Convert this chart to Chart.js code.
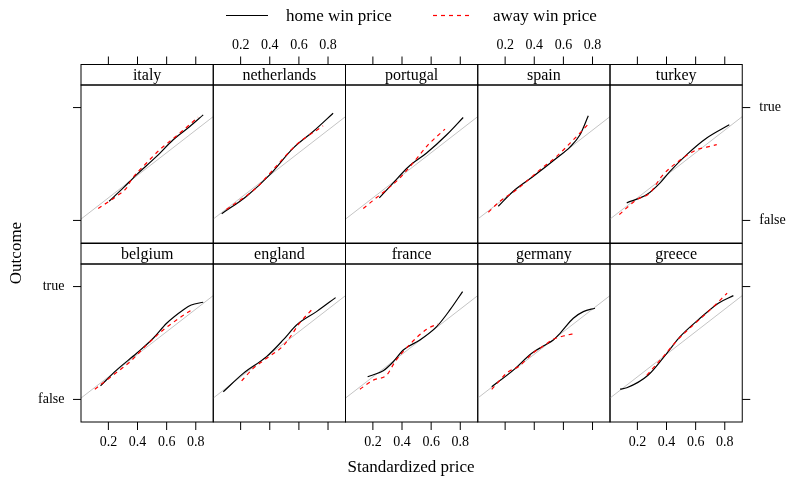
<!DOCTYPE html>
<html>
<head>
<meta charset="utf-8">
<script src="https://cdn.jsdelivr.net/npm/chart.js@4.4.0/dist/chart.umd.min.js"></script>
<style>
  html, body { margin: 0; padding: 0; background: #fff; }
  #wrap { position: relative; width: 786px; height: 480px; }
  #wrap canvas { position: absolute; left: 0; top: 0; }
</style>
</head>
<body>
<div id="wrap"></div>
<script>
var countries = ["italy", "netherlands", "portugal", "spain", "turkey",
                 "belgium", "england", "france", "germany", "greece"];
var seriesNames = ["home win price", "away win price"];
var xTicks = [0.2, 0.4, 0.6, 0.8];
var xTickLabels = ["0.2", "0.4", "0.6", "0.8"];
var yTicks = [0, 1];
var yTickLabels = ["false", "true"];
var refLine = [0, 1];

// [standardized price, smoothed outcome]
var italyHome = [[0.205,0.170],[0.302,0.288],[0.394,0.406],[0.531,0.567],[0.645,0.715],[0.759,0.832],[0.851,0.935]];
var italyAway = [[0.130,0.106],[0.256,0.215],[0.325,0.288],[0.359,0.362],[0.462,0.509],[0.553,0.627],[0.691,0.774],[0.816,0.915]];
var netherlandsHome = [[0.070,0.059],[0.241,0.215],[0.401,0.406],[0.561,0.641],[0.698,0.788],[0.835,0.950]];
var netherlandsAway = [[0.102,0.097],[0.308,0.289],[0.423,0.450],[0.583,0.671],[0.766,0.838]];
var portugalHome = [[0.244,0.200],[0.340,0.333],[0.443,0.474],[0.569,0.597],[0.707,0.759],[0.820,0.912]];
var portugalAway = [[0.134,0.106],[0.203,0.179],[0.317,0.297],[0.386,0.377],[0.466,0.494],[0.580,0.671],[0.695,0.809]];
var spainHome = [[0.153,0.126],[0.256,0.259],[0.394,0.391],[0.554,0.553],[0.645,0.650],[0.714,0.759],[0.771,0.927]];
var spainAway = [[0.085,0.073],[0.165,0.170],[0.280,0.274],[0.440,0.450],[0.554,0.568],[0.669,0.715],[0.771,0.853]];
var turkeyHome = [[0.127,0.156],[0.265,0.229],[0.356,0.333],[0.424,0.435],[0.539,0.583],[0.676,0.730],[0.831,0.847]];
var turkeyAway = [[0.076,0.053],[0.196,0.185],[0.287,0.244],[0.367,0.391],[0.481,0.523],[0.608,0.627],[0.676,0.650],[0.745,0.671]];
var belgiumHome = [[0.146,0.121],[0.256,0.260],[0.394,0.409],[0.508,0.542],[0.600,0.675],[0.713,0.793],[0.769,0.837],[0.851,0.861]];
var belgiumAway = [[0.107,0.091],[0.233,0.216],[0.349,0.334],[0.462,0.482],[0.576,0.615],[0.702,0.734],[0.764,0.787]];
var englandHome = [[0.081,0.068],[0.218,0.231],[0.378,0.379],[0.492,0.527],[0.584,0.660],[0.721,0.778],[0.852,0.902]];
var englandAway = [[0.207,0.165],[0.286,0.275],[0.378,0.364],[0.492,0.475],[0.550,0.571],[0.595,0.660],[0.698,0.808]];
var franceHome = [[0.164,0.201],[0.271,0.254],[0.340,0.334],[0.409,0.438],[0.523,0.527],[0.638,0.645],[0.729,0.793],[0.816,0.956]];
var franceAway = [[0.111,0.091],[0.203,0.171],[0.295,0.216],[0.352,0.334],[0.443,0.473],[0.569,0.622],[0.649,0.669]];
var germanyHome = [[0.108,0.112],[0.256,0.260],[0.383,0.409],[0.462,0.473],[0.531,0.527],[0.577,0.586],[0.668,0.719],[0.737,0.778],[0.817,0.808]];
var germanyAway = [[0.108,0.089],[0.222,0.245],[0.291,0.290],[0.394,0.414],[0.462,0.473],[0.531,0.533],[0.600,0.562],[0.686,0.586]];
var greeceHome = [[0.081,0.091],[0.127,0.103],[0.275,0.216],[0.402,0.409],[0.493,0.556],[0.630,0.719],[0.756,0.853],[0.859,0.920]];
var greeceAway = [[0.265,0.216],[0.321,0.296],[0.378,0.379],[0.470,0.520],[0.584,0.660],[0.699,0.793],[0.816,0.941]];

var homeSeries = [italyHome, netherlandsHome, portugalHome, spainHome, turkeyHome,
                  belgiumHome, englandHome, franceHome, germanyHome, greeceHome];
var awaySeries = [italyAway, netherlandsAway, portugalAway, spainAway, turkeyAway,
                  belgiumAway, englandAway, franceAway, germanyAway, greeceAway];

var W = 786, H = 480;
var panelLeft = 81, panelW = 132.25, panelH = 158, stripH = 20.5;
var rowTop = [85, 264];
var tickLen = 8;
var serif = '"Liberation Serif", "Times New Roman", serif';
var homeColor = '#000000', awayColor = '#ff0000';

function toPoints(arr) {
  return arr.map(function (p) { return { x: p[0], y: p[1] }; });
}

var panelPlugin = {
  id: 'panel',
  afterDraw: function (chart, args, opts) {
    var ctx = chart.ctx, a = chart.chartArea, i = opts.index;
    var row = Math.floor(i / 5), col = i % 5;
    var xs = chart.scales.x, ys = chart.scales.y;
    var sTop = a.top - stripH;
    ctx.save();
    ctx.strokeStyle = '#000';
    ctx.fillStyle = '#000';
    ctx.lineWidth = 1;
    ctx.strokeRect(a.left, a.top, a.right - a.left, a.bottom - a.top);
    ctx.strokeRect(a.left, sTop, a.right - a.left, stripH);
    ctx.font = '16px ' + serif;
    ctx.textAlign = 'center';
    ctx.textBaseline = 'alphabetic';
    ctx.fillText(countries[i], (a.left + a.right) / 2, sTop + 15);

    ctx.font = '14px ' + serif;
    ctx.beginPath();
    xTicks.forEach(function (v, k) {
      var px = xs.getPixelForValue(v);
      if (row === 0) {
        ctx.moveTo(px, sTop); ctx.lineTo(px, sTop - tickLen);
        if (col % 2 === 1) ctx.fillText(xTickLabels[k], px, sTop - tickLen - 8);
      } else {
        ctx.moveTo(px, a.bottom); ctx.lineTo(px, a.bottom + tickLen);
        if (col % 2 === 0) ctx.fillText(xTickLabels[k], px, a.bottom + tickLen + 15.5);
      }
    });
    ctx.textBaseline = 'middle';
    yTicks.forEach(function (v, k) {
      var py = ys.getPixelForValue(v);
      if (col === 0) {
        ctx.moveTo(a.left, py); ctx.lineTo(a.left - tickLen, py);
        if (row === 1) { ctx.textAlign = 'right'; ctx.fillText(yTickLabels[k], a.left - 16.5, py); }
      }
      if (col === 4) {
        ctx.moveTo(a.right, py); ctx.lineTo(a.right + tickLen, py);
        if (row === 0) { ctx.textAlign = 'left'; ctx.fillText(yTickLabels[k], a.right + 17, py); }
      }
    });
    ctx.stroke();

    if (i === 0) {
      // legend
      ctx.font = '17px ' + serif;
      ctx.textAlign = 'left';
      ctx.textBaseline = 'alphabetic';
      ctx.lineWidth = 1.2;
      ctx.strokeStyle = homeColor;
      ctx.beginPath();
      ctx.moveTo(226, 15.5); ctx.lineTo(268, 15.5);
      ctx.stroke();
      ctx.fillText(seriesNames[0], 286, 21);
      ctx.strokeStyle = awayColor;
      ctx.setLineDash([4, 4]);
      ctx.beginPath();
      ctx.moveTo(433, 15.5); ctx.lineTo(473, 15.5);
      ctx.stroke();
      ctx.setLineDash([]);
      ctx.fillText(seriesNames[1], 493, 21);
      // axis titles
      ctx.textAlign = 'center';
      ctx.fillText('Standardized price', 411, 472);
      ctx.translate(21, 253);
      ctx.rotate(-Math.PI / 2);
      ctx.fillText('Outcome', 0, 0);
    }
    ctx.restore();
  }
};

var wrap = document.getElementById('wrap');
countries.forEach(function (name, i) {
  var canvas = document.createElement('canvas');
  canvas.width = W;
  canvas.height = H;
  wrap.appendChild(canvas);
  var row = Math.floor(i / 5), col = i % 5;
  var left = panelLeft + col * panelW, top = rowTop[row];
  new Chart(canvas, {
    type: 'line',
    data: {
      datasets: [{
        label: seriesNames[0],
        data: toPoints(homeSeries[i]),
        borderColor: homeColor,
        borderWidth: 1.2,
        order: 2
      }, {
        label: seriesNames[1],
        data: toPoints(awaySeries[i]),
        borderColor: awayColor,
        borderDash: [4, 4],
        borderWidth: 1.2,
        order: 1
      }, {
        label: 'reference',
        data: [{ x: refLine[0], y: refLine[0] }, { x: refLine[1], y: refLine[1] }],
        borderColor: '#c4c4c4',
        borderWidth: 1,
        tension: 0,
        cubicInterpolationMode: 'default',
        clip: 0,
        order: 3
      }]
    },
    options: {
      responsive: false,
      animation: false,
      events: [],
      layout: { padding: { left: left, top: top, right: W - left - panelW, bottom: H - top - panelH } },
      elements: { point: { radius: 0 }, line: { cubicInterpolationMode: 'monotone' } },
      scales: {
        x: { type: 'linear', min: 0.012, max: 0.92, display: false },
        y: { type: 'linear', min: -0.2, max: 1.2, display: false }
      },
      plugins: {
        legend: { display: false },
        tooltip: { enabled: false },
        panel: { index: i }
      }
    },
    plugins: [panelPlugin]
  });
});
</script>
</body>
</html>
